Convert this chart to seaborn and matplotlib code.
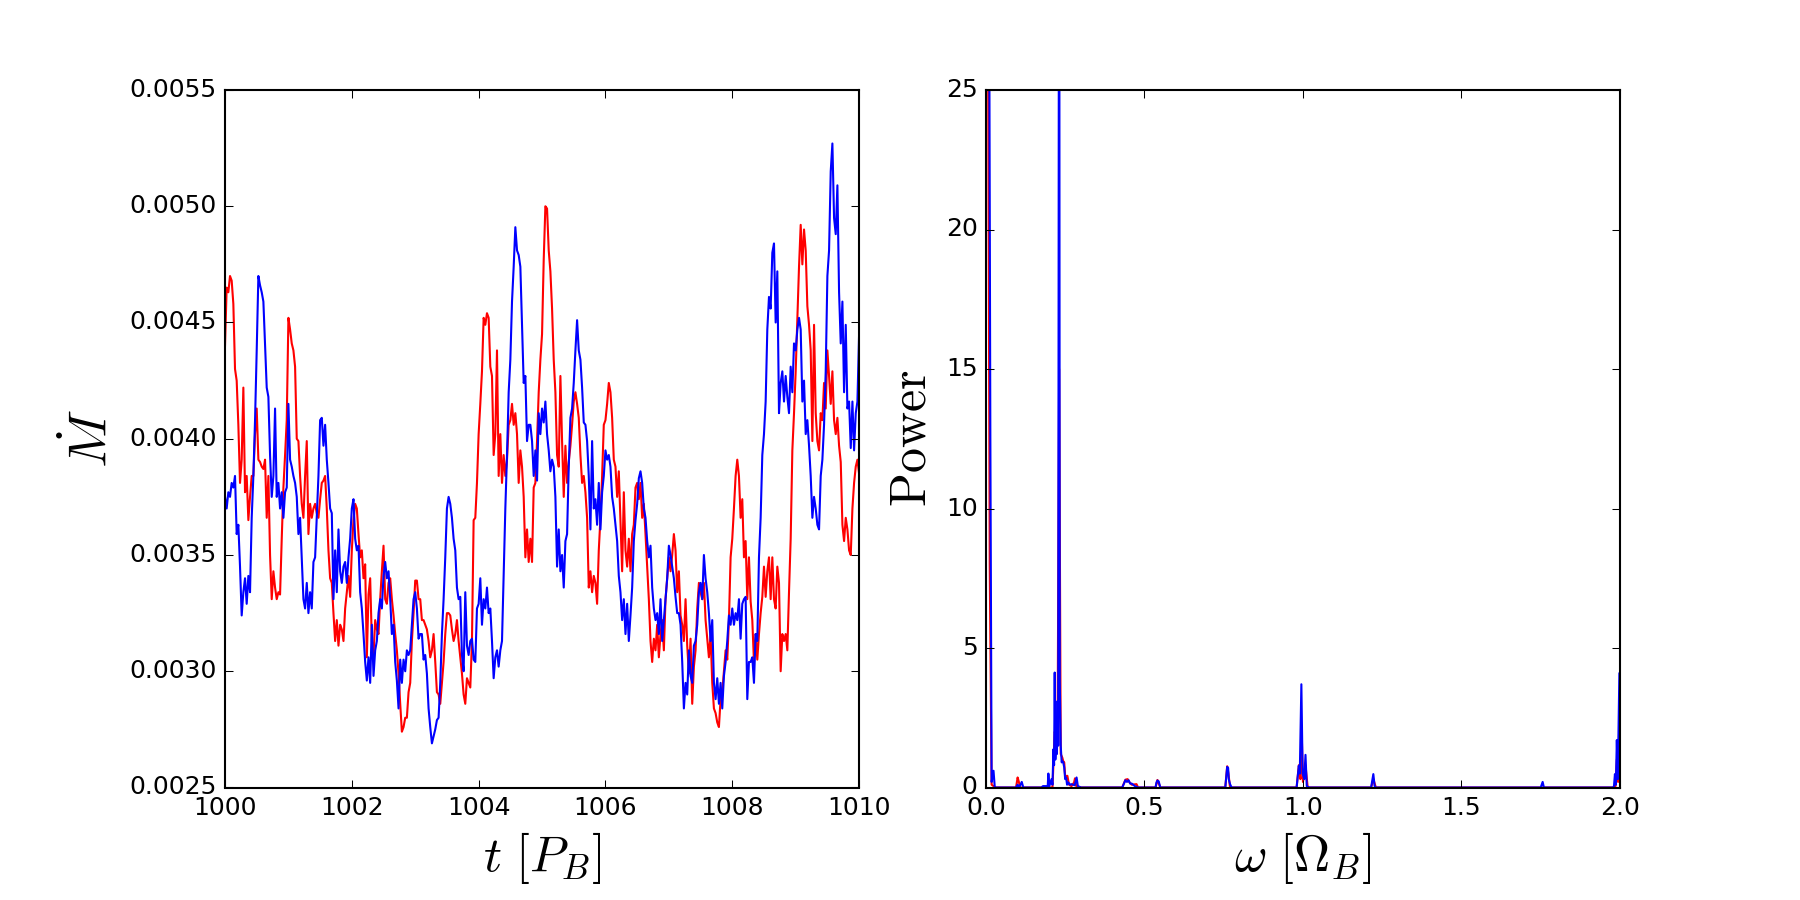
import numpy as np
import pandas as pd
import matplotlib
matplotlib.use("Agg")
import matplotlib.pyplot as plt
import seaborn as sns

# estilo "clasico" de matplotlib
plt.style.use("classic")
plt.rcParams["mathtext.fontset"] = "cm"
plt.rcParams["font.family"] = ["DejaVu Sans"]
plt.rcParams["font.size"] = 12

# ---- serie temporal (t en P_B, muestreo regular entre 1000 y 1010) ----
mdot_red = [
    0.00440, 0.00465, 0.00463, 0.00470, 0.00468, 0.00458, 0.00430, 0.00425, 0.00406, 0.00381,
    0.00391, 0.00422, 0.00377, 0.00384, 0.00365, 0.00375, 0.00384, 0.00384, 0.00402, 0.00413,
    0.00391, 0.00390, 0.00388, 0.00387, 0.00391, 0.00366, 0.00384, 0.00350, 0.00331, 0.00343,
    0.00336, 0.00331, 0.00334, 0.00333, 0.00357, 0.00379, 0.00393, 0.00408, 0.00452, 0.00447,
    0.00441, 0.00438, 0.00431, 0.00400, 0.00399, 0.00384, 0.00372, 0.00366, 0.00384, 0.00399,
    0.00359, 0.00372, 0.00366, 0.00370, 0.00372, 0.00368, 0.00366, 0.00374, 0.00381, 0.00382,
    0.00384, 0.00370, 0.00352, 0.00340, 0.00338, 0.00325, 0.00313, 0.00322, 0.00311, 0.00320,
    0.00318, 0.00313, 0.00327, 0.00334, 0.00341, 0.00332, 0.00352, 0.00365, 0.00372, 0.00370,
    0.00359, 0.00349, 0.00352, 0.00340, 0.00346, 0.00306, 0.00333, 0.00340, 0.00313, 0.00307,
    0.00322, 0.00318, 0.00316, 0.00331, 0.00343, 0.00354, 0.00331, 0.00329, 0.00338, 0.00340,
    0.00331, 0.00324, 0.00316, 0.00309, 0.00299, 0.00286, 0.00274, 0.00276, 0.00280, 0.00280,
    0.00291, 0.00295, 0.00313, 0.00325, 0.00339, 0.00339, 0.00331, 0.00331, 0.00322, 0.00322,
    0.00320, 0.00318, 0.00313, 0.00306, 0.00309, 0.00316, 0.00304, 0.00291, 0.00290, 0.00286,
    0.00295, 0.00304, 0.00316, 0.00325, 0.00325, 0.00324, 0.00318, 0.00313, 0.00316, 0.00322,
    0.00313, 0.00306, 0.00299, 0.00290, 0.00286, 0.00297, 0.00295, 0.00293, 0.00313, 0.00365,
    0.00366, 0.00381, 0.00402, 0.00415, 0.00429, 0.00452, 0.00449, 0.00454, 0.00452, 0.00431,
    0.00427, 0.00393, 0.00402, 0.00438, 0.00384, 0.00402, 0.00381, 0.00393, 0.00384, 0.00391,
    0.00406, 0.00408, 0.00415, 0.00406, 0.00411, 0.00402, 0.00381, 0.00395, 0.00388, 0.00375,
    0.00349, 0.00361, 0.00347, 0.00357, 0.00347, 0.00379, 0.00381, 0.00399, 0.00420, 0.00434,
    0.00445, 0.00477, 0.00500, 0.00499, 0.00481, 0.00472, 0.00456, 0.00434, 0.00420, 0.00393,
    0.00388, 0.00427, 0.00399, 0.00375, 0.00397, 0.00381, 0.00390, 0.00397, 0.00406, 0.00416,
    0.00420, 0.00415, 0.00409, 0.00393, 0.00381, 0.00384, 0.00377, 0.00366, 0.00336, 0.00343,
    0.00334, 0.00341, 0.00338, 0.00329, 0.00352, 0.00366, 0.00384, 0.00406, 0.00408, 0.00415,
    0.00424, 0.00420, 0.00409, 0.00391, 0.00388, 0.00375, 0.00386, 0.00365, 0.00343, 0.00377,
    0.00352, 0.00345, 0.00357, 0.00343, 0.00359, 0.00363, 0.00379, 0.00381, 0.00374, 0.00381,
    0.00366, 0.00372, 0.00359, 0.00345, 0.00331, 0.00313, 0.00304, 0.00314, 0.00309, 0.00320,
    0.00306, 0.00316, 0.00322, 0.00309, 0.00331, 0.00340, 0.00349, 0.00343, 0.00350, 0.00359,
    0.00352, 0.00334, 0.00343, 0.00324, 0.00320, 0.00313, 0.00331, 0.00311, 0.00299, 0.00314,
    0.00286, 0.00302, 0.00309, 0.00327, 0.00338, 0.00334, 0.00331, 0.00338, 0.00322, 0.00314,
    0.00306, 0.00316, 0.00295, 0.00284, 0.00282, 0.00278, 0.00276, 0.00288, 0.00291, 0.00300,
    0.00309, 0.00305, 0.00322, 0.00349, 0.00357, 0.00370, 0.00384, 0.00391, 0.00384, 0.00366,
    0.00374, 0.00349, 0.00356, 0.00331, 0.00349, 0.00330, 0.00322, 0.00304, 0.00316, 0.00305,
    0.00316, 0.00325, 0.00332, 0.00345, 0.00332, 0.00343, 0.00349, 0.00331, 0.00349, 0.00331,
    0.00327, 0.00345, 0.00338, 0.00300, 0.00316, 0.00313, 0.00316, 0.00309, 0.00334, 0.00357,
    0.00395, 0.00411, 0.00429, 0.00452, 0.00474, 0.00492, 0.00475, 0.00490, 0.00481, 0.00457,
    0.00449, 0.00438, 0.00399, 0.00449, 0.00411, 0.00399, 0.00395, 0.00411, 0.00408, 0.00424,
    0.00413, 0.00438, 0.00427, 0.00415, 0.00429, 0.00408, 0.00402, 0.00409, 0.00397, 0.00390,
    0.00363, 0.00356, 0.00366, 0.00361, 0.00352, 0.00350, 0.00370, 0.00381, 0.00388, 0.00391,
    0.00385,
]
mdot_blue = [
    0.00375, 0.00370, 0.00377, 0.00375, 0.00381, 0.00379, 0.00384, 0.00359, 0.00363, 0.00345,
    0.00324, 0.00334, 0.00340, 0.00329, 0.00341, 0.00334, 0.00366, 0.00384, 0.00408, 0.00438,
    0.00470, 0.00466, 0.00463, 0.00459, 0.00441, 0.00422, 0.00418, 0.00393, 0.00375, 0.00384,
    0.00413, 0.00375, 0.00381, 0.00370, 0.00377, 0.00366, 0.00377, 0.00379, 0.00415, 0.00391,
    0.00388, 0.00384, 0.00381, 0.00375, 0.00359, 0.00366, 0.00349, 0.00331, 0.00327, 0.00338,
    0.00325, 0.00334, 0.00327, 0.00347, 0.00349, 0.00366, 0.00384, 0.00408, 0.00409, 0.00397,
    0.00406, 0.00391, 0.00381, 0.00370, 0.00368, 0.00331, 0.00352, 0.00334, 0.00361, 0.00343,
    0.00338, 0.00345, 0.00347, 0.00338, 0.00349, 0.00357, 0.00370, 0.00374, 0.00357, 0.00352,
    0.00354, 0.00334, 0.00327, 0.00316, 0.00304, 0.00296, 0.00306, 0.00295, 0.00320, 0.00298,
    0.00309, 0.00313, 0.00325, 0.00331, 0.00327, 0.00341, 0.00347, 0.00340, 0.00343, 0.00331,
    0.00316, 0.00320, 0.00304, 0.00296, 0.00284, 0.00305, 0.00295, 0.00305, 0.00300, 0.00309,
    0.00307, 0.00309, 0.00320, 0.00331, 0.00334, 0.00327, 0.00314, 0.00316, 0.00316, 0.00305,
    0.00307, 0.00299, 0.00284, 0.00276, 0.00269, 0.00272, 0.00275, 0.00279, 0.00280, 0.00295,
    0.00316, 0.00331, 0.00349, 0.00370, 0.00375, 0.00372, 0.00366, 0.00357, 0.00352, 0.00336,
    0.00331, 0.00332, 0.00307, 0.00300, 0.00334, 0.00311, 0.00307, 0.00313, 0.00314, 0.00305,
    0.00304, 0.00327, 0.00329, 0.00340, 0.00320, 0.00331, 0.00327, 0.00336, 0.00325, 0.00327,
    0.00313, 0.00297, 0.00306, 0.00309, 0.00302, 0.00309, 0.00313, 0.00341, 0.00370, 0.00393,
    0.00420, 0.00434, 0.00459, 0.00474, 0.00491, 0.00481, 0.00479, 0.00474, 0.00449, 0.00424,
    0.00427, 0.00399, 0.00406, 0.00406, 0.00399, 0.00384, 0.00395, 0.00382, 0.00411, 0.00402,
    0.00413, 0.00407, 0.00416, 0.00402, 0.00395, 0.00386, 0.00391, 0.00388, 0.00375, 0.00345,
    0.00361, 0.00343, 0.00350, 0.00336, 0.00356, 0.00359, 0.00388, 0.00409, 0.00413, 0.00424,
    0.00438, 0.00451, 0.00438, 0.00434, 0.00422, 0.00407, 0.00406, 0.00399, 0.00384, 0.00361,
    0.00399, 0.00370, 0.00374, 0.00363, 0.00381, 0.00361, 0.00377, 0.00384, 0.00395, 0.00391,
    0.00393, 0.00388, 0.00375, 0.00370, 0.00363, 0.00356, 0.00341, 0.00334, 0.00322, 0.00331,
    0.00316, 0.00329, 0.00313, 0.00324, 0.00336, 0.00356, 0.00365, 0.00372, 0.00383, 0.00386,
    0.00381, 0.00370, 0.00366, 0.00356, 0.00349, 0.00354, 0.00336, 0.00327, 0.00322, 0.00325,
    0.00316, 0.00331, 0.00313, 0.00322, 0.00331, 0.00340, 0.00354, 0.00350, 0.00345, 0.00340,
    0.00332, 0.00325, 0.00325, 0.00320, 0.00304, 0.00284, 0.00295, 0.00290, 0.00309, 0.00298,
    0.00295, 0.00311, 0.00313, 0.00320, 0.00334, 0.00338, 0.00331, 0.00350, 0.00340, 0.00334,
    0.00325, 0.00313, 0.00322, 0.00295, 0.00288, 0.00297, 0.00286, 0.00295, 0.00284, 0.00298,
    0.00304, 0.00313, 0.00324, 0.00320, 0.00327, 0.00320, 0.00325, 0.00322, 0.00331, 0.00314,
    0.00329, 0.00331, 0.00332, 0.00288, 0.00304, 0.00304, 0.00306, 0.00295, 0.00316, 0.00313,
    0.00349, 0.00366, 0.00393, 0.00402, 0.00416, 0.00447, 0.00461, 0.00456, 0.00480, 0.00484,
    0.00450, 0.00472, 0.00411, 0.00424, 0.00429, 0.00416, 0.00427, 0.00418, 0.00411, 0.00431,
    0.00420, 0.00441, 0.00438, 0.00447, 0.00452, 0.00447, 0.00416, 0.00425, 0.00402, 0.00408,
    0.00397, 0.00384, 0.00366, 0.00375, 0.00370, 0.00363, 0.00361, 0.00384, 0.00391, 0.00406,
    0.00429, 0.00470, 0.00481, 0.00515, 0.00527, 0.00495, 0.00488, 0.00509, 0.00463, 0.00441,
    0.00459, 0.00420, 0.00449, 0.00413, 0.00416, 0.00396, 0.00416, 0.00395, 0.00411, 0.00416,
    0.00445,
]
t_start, t_end = 1000, 1010

# ---- espectro de potencia (omega en Omega_B) ----
omega_red = [0.000, 0.006, 0.012, 0.018, 0.030, 0.095, 0.100, 0.104, 0.108, 0.210,
             0.217, 0.222, 0.226, 0.231, 0.236, 0.241, 0.245, 0.247, 0.250, 0.257,
             0.262, 0.270, 0.278, 0.281, 0.285, 0.300, 0.430, 0.440, 0.447, 0.452,
             0.460, 0.475, 0.480, 0.535, 0.541, 0.547, 0.550, 0.755, 0.761, 0.765,
             0.770, 0.980, 0.987, 0.992, 0.996, 1.000, 1.008, 1.015, 1.215, 1.222,
             1.230, 1.980, 1.986, 1.990, 1.994, 1.998, 2.000]
power_red = [60.0, 30.0, 8.0, 0.10, 0.0, 0.0, 0.36, 0.20, 0.0, 0.0,
             2.0, 1.85, 1.6, 15.0, 1.2, 1.07, 0.9, 0.9, 0.4, 0.42,
             0.10, 0.05, 0.18, 0.33, 0.05, 0.0, 0.0, 0.28, 0.30, 0.20,
             0.10, 0.12, 0.0, 0.0, 0.27, 0.10, 0.0, 0.0, 0.76, 0.50,
             0.0, 0.0, 0.80, 0.30, 2.0, 0.20, 0.80, 0.0, 0.0, 0.30,
             0.0, 0.0, 0.05, 1.0, 0.2, 2.5, 2.5]

omega_blue = [0.000, 0.005, 0.010, 0.014, 0.018, 0.024, 0.028, 0.095, 0.100, 0.105,
              0.113, 0.118, 0.175, 0.180, 0.195, 0.197, 0.200, 0.207, 0.210, 0.213,
              0.215, 0.217, 0.219, 0.222, 0.224, 0.226, 0.228, 0.231, 0.233, 0.236,
              0.239, 0.241, 0.244, 0.247, 0.250, 0.253, 0.256, 0.260, 0.265, 0.270,
              0.280, 0.286, 0.290, 0.300, 0.430, 0.440, 0.445, 0.450, 0.455, 0.460,
              0.470, 0.480, 0.535, 0.538, 0.541, 0.545, 0.550, 0.755, 0.761, 0.764,
              0.766, 0.770, 0.775, 0.980, 0.987, 0.990, 0.995, 0.999, 1.004, 1.008,
              1.012, 1.020, 1.215, 1.222, 1.226, 1.230, 1.750, 1.756, 1.760, 1.978,
              1.981, 1.984, 1.987, 1.990, 1.993, 1.998, 2.000]
power_blue = [80.0, 40.0, 30.0, 12.6, 0.20, 0.60, 0.0, 0.0, 0.10, 0.0,
              0.20, 0.0, 0.0, 0.05, 0.05, 0.50, 0.05, 0.30, 0.10, 1.37,
              0.80, 4.12, 1.0, 1.85, 1.2, 3.1, 1.5, 40.0, 3.8, 1.5,
              0.90, 0.95, 0.90, 0.72, 0.30, 0.36, 0.10, 0.18, 0.10, 0.12,
              0.08, 0.36, 0.05, 0.0, 0.0, 0.26, 0.20, 0.26, 0.14, 0.14,
              0.05, 0.0, 0.0, 0.18, 0.25, 0.22, 0.0, 0.0, 0.74, 0.70,
              0.30, 0.12, 0.0, 0.0, 0.78, 0.50, 3.7, 0.50, 0.30, 1.17,
              0.05, 0.0, 0.0, 0.48, 0.05, 0.0, 0.0, 0.20, 0.0, 0.0,
              0.05, 0.48, 0.10, 1.7, 0.30, 4.1, 4.1]

df_t = pd.DataFrame({
    "t": np.linspace(t_start, t_end, len(mdot_red)),
    "red": mdot_red,
    "blue": mdot_blue,
})

fig, (ax1, ax2) = plt.subplots(1, 2, figsize=(12, 6), dpi=150, facecolor="white")
fig.subplots_adjust(left=0.125, right=0.9, top=0.9, bottom=0.125, wspace=0.2)

# ================= Mdot vs t =================
sns.lineplot(data=df_t, x="t", y="red", color="red", lw=1.0, ax=ax1,
             estimator=None, sort=False, legend=False)
sns.lineplot(data=df_t, x="t", y="blue", color="blue", lw=1.0, ax=ax1,
             estimator=None, sort=False, legend=False)
ax1.set_xlim(1000, 1010)
ax1.set_ylim(0.0025, 0.0055)
ax1.set_xticks(np.arange(1000, 1011, 2))
ax1.set_yticks(np.arange(0.0025, 0.00551, 0.0005))
ax1.ticklabel_format(useOffset=False)
ax1.yaxis.set_major_formatter(matplotlib.ticker.FormatStrFormatter("%.4f"))
ax1.set_xlabel(r"$t\ [P_B]$", fontsize=24)
ax1.set_ylabel(r"$\dot{M}$", fontsize=26)

# ================= espectro =================
sns.lineplot(x=omega_red, y=power_red, color="red", lw=1.0, ax=ax2,
             estimator=None, sort=False, legend=False)
sns.lineplot(x=omega_blue, y=power_blue, color="blue", lw=1.0, ax=ax2,
             estimator=None, sort=False, legend=False)
ax2.set_xlim(0, 2)
ax2.set_ylim(0, 25)
ax2.set_xticks([0.0, 0.5, 1.0, 1.5, 2.0])
ax2.set_yticks([0, 5, 10, 15, 20, 25])
ax2.set_xlabel(r"$\omega\ [\Omega_B]$", fontsize=24)
ax2.set_ylabel(r"$\mathrm{Power}$", fontsize=24)

for ax in (ax1, ax2):
    ax.set_facecolor("white")

plt.savefig("out.png", dpi=150, facecolor="white")
